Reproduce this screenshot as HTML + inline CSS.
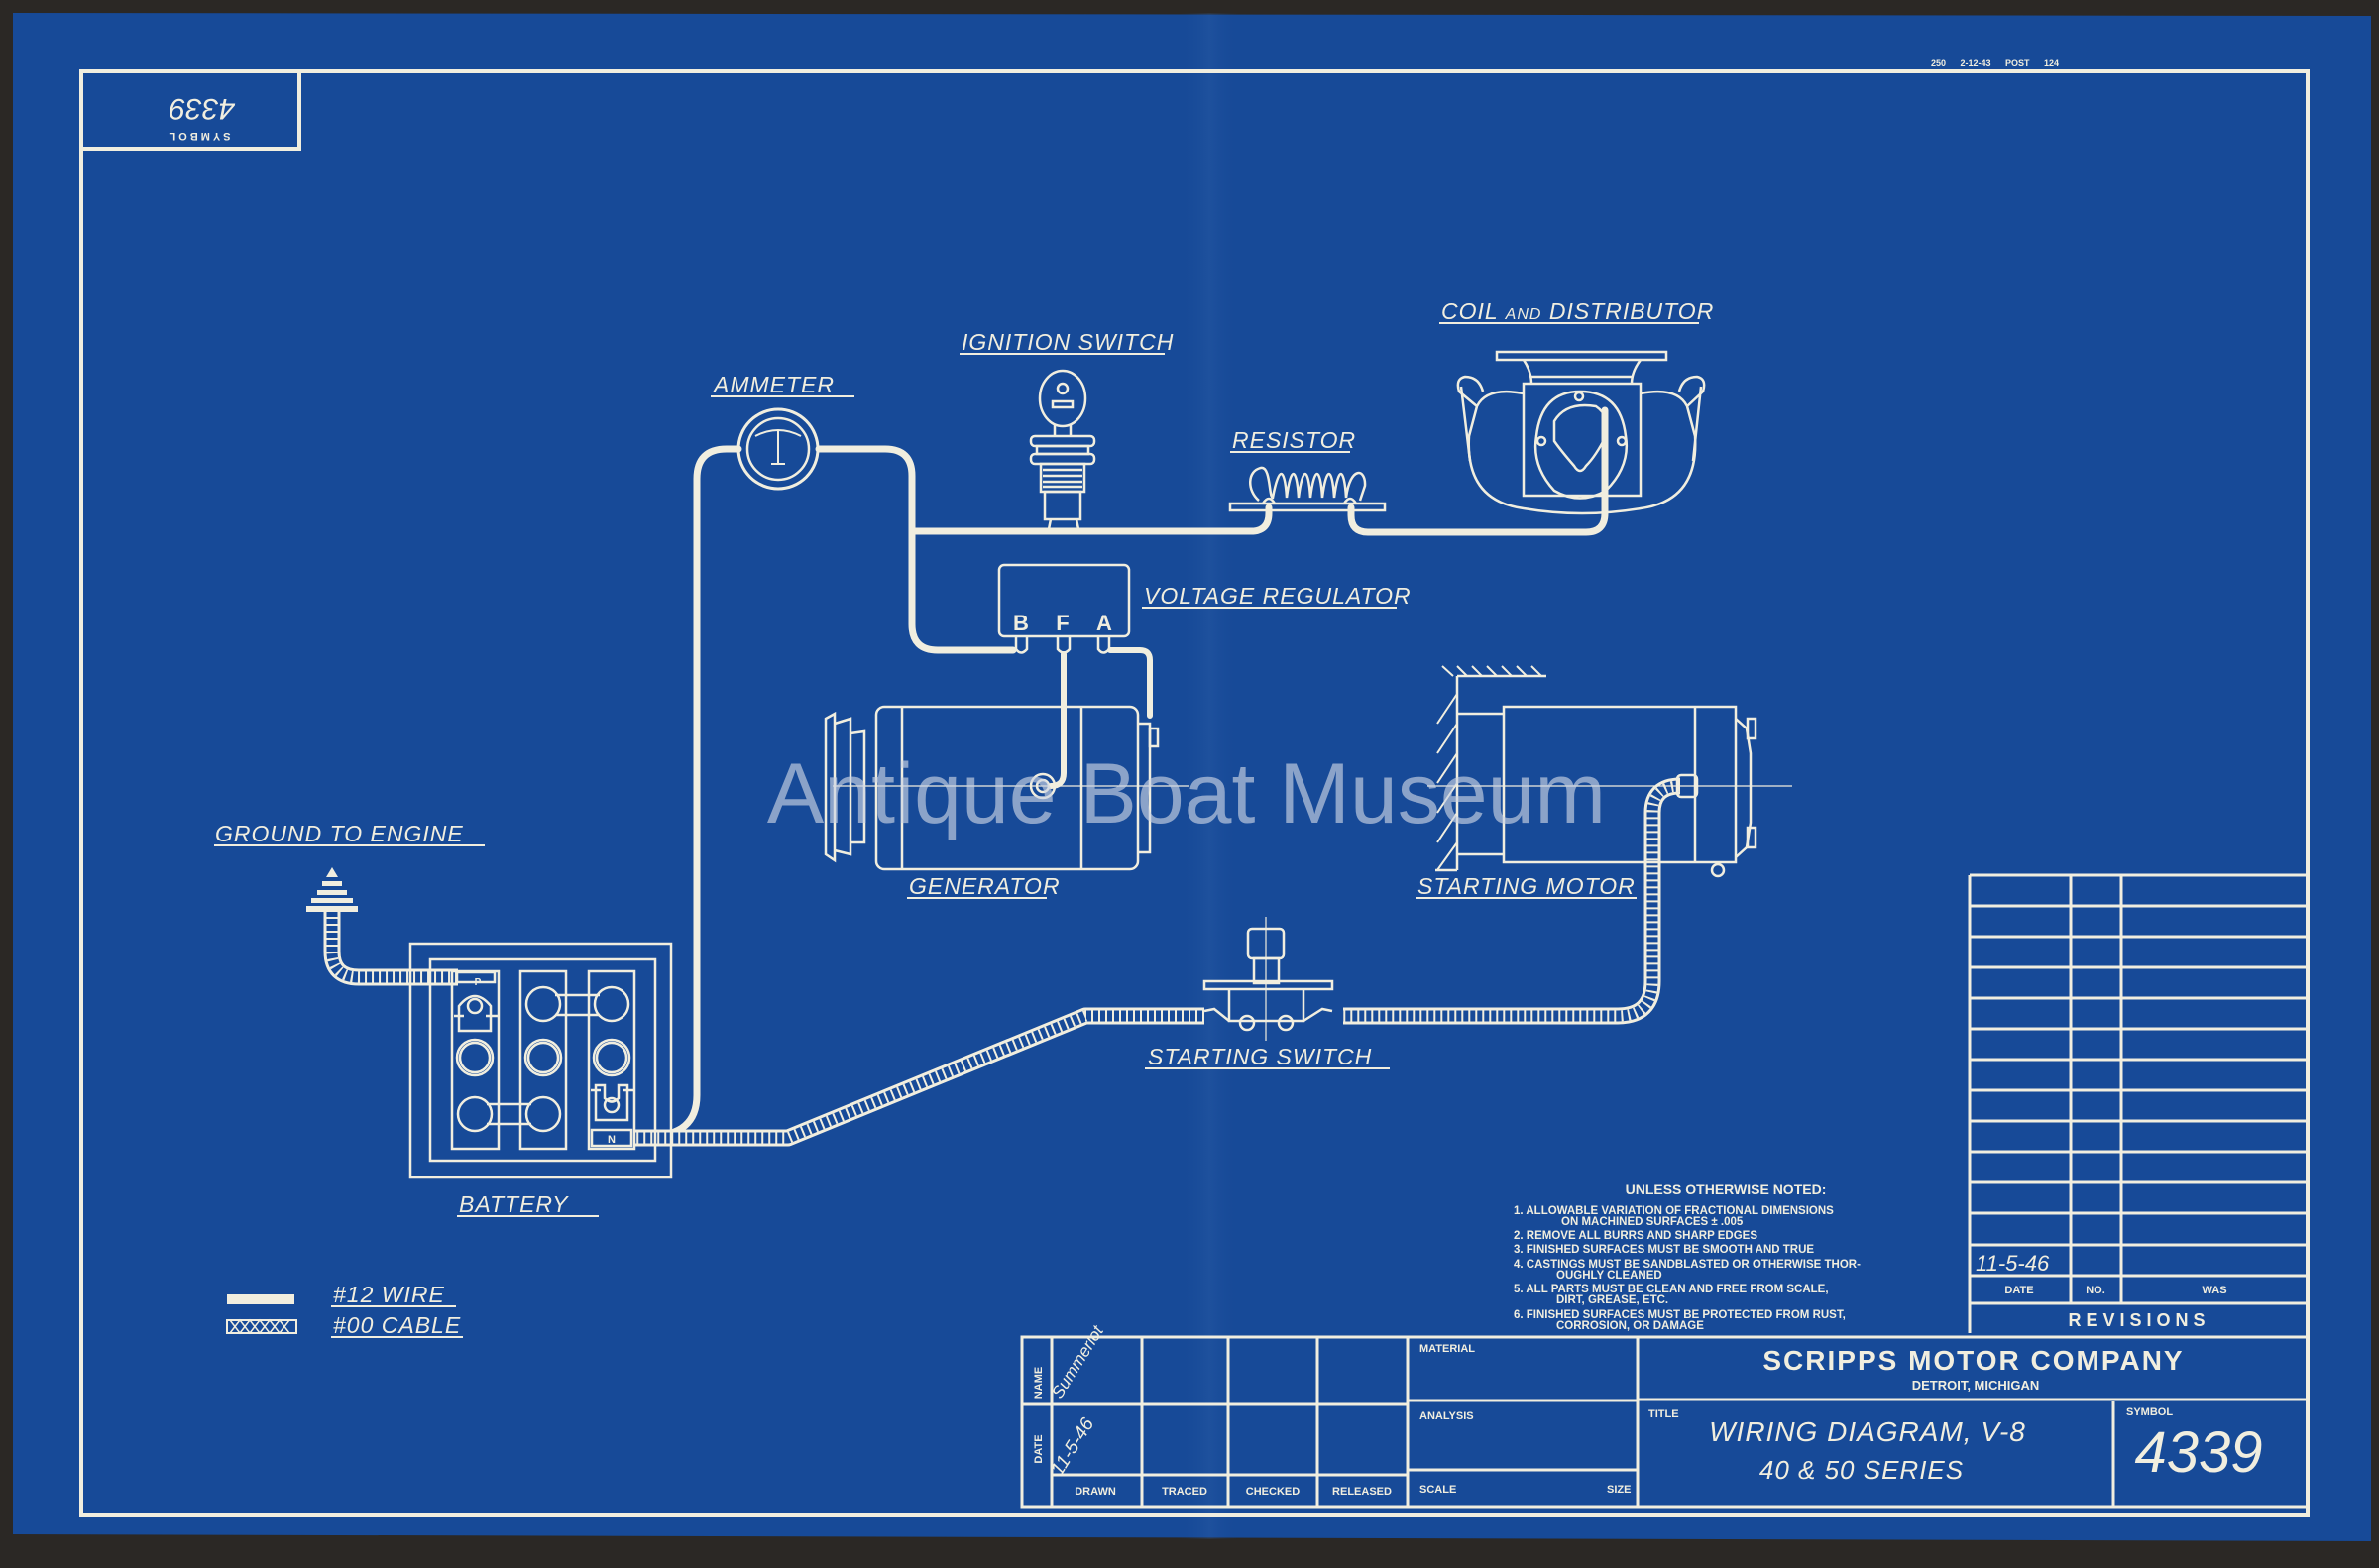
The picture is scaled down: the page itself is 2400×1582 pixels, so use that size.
<!DOCTYPE html>
<html><head><meta charset="utf-8"><style>
html,body{margin:0;padding:0;background:#2b2825;}
svg{display:block}
.l{font-family:"Liberation Sans",sans-serif;font-style:italic;fill:#f1eedf;font-size:23px;letter-spacing:1px}
.b{font-family:"Liberation Sans",sans-serif;font-weight:bold;fill:#f1eedf}
</style></head><body>
<svg width="2400" height="1582" viewBox="0 0 2400 1582" xmlns="http://www.w3.org/2000/svg">
<defs>
<linearGradient id="fold" x1="0" x2="1" y1="0" y2="0">
<stop offset="0" stop-color="#174a98" stop-opacity="0"/>
<stop offset="0.5" stop-color="#3a6db2" stop-opacity="0.2"/>
<stop offset="1" stop-color="#174a98" stop-opacity="0"/>
</linearGradient>
</defs>
<rect width="2400" height="1582" fill="#2b2825"/>
<path d="M13 13 L2392 16 L2392 1555 L1400 1552 L13 1548 Z" fill="#174a98"/>
<rect x="1190" y="13" width="60" height="1540" fill="url(#fold)"/>
<g stroke="#f1eedf" fill="none">
<rect x="82" y="72" width="2246" height="1457" stroke-width="4"/>
<path d="M82 150 L302 150 L302 72" stroke-width="4"/>
<g stroke-width="3">
<path d="M1987 883 L2328 883 M1987 883 L1987 1345 M2089 883 L2089 1315 M2140 883 L2140 1315"/>
<path d="M1987 914 H2328 M1987 945 H2328 M1987 976 H2328 M1987 1007 H2328 M1987 1038 H2328 M1987 1069 H2328 M1987 1100 H2328 M1987 1131 H2328 M1987 1162 H2328 M1987 1193 H2328 M1987 1224 H2328 M1987 1256 H2328 M1987 1287 H2328 M1987 1315 H2328"/>
</g>
<g stroke-width="3">
<rect x="1031" y="1349" width="1297" height="171"/>
<path d="M1061 1349 V1520 M1152 1349 V1520 M1239 1349 V1520 M1329 1349 V1520 M1420 1349 V1520 M1652 1349 V1520 M2132 1414 V1520"/>
<path d="M1031 1417 H1420 M1061 1488 H1420 M1420 1413 H1652 M1420 1483 H1652 M1652 1412 H2328"/>
</g>
<g stroke-width="7" stroke-linecap="round" stroke-linejoin="round">
<path d="M655 1146 Q703 1146 703 1105 L703 483 Q703 453 733 453 L745 453"/>
<path d="M826 453 L893 453 Q920 453 920 480 L920 630 Q920 656 946 656 L1022 656"/>
<path d="M920 536 L1262 536 Q1280 536 1280 518 L1280 512"/>
<path d="M1363 512 L1363 520 Q1363 537 1380 537 L1600 537 Q1619 537 1619 518 L1619 414"/>
<path d="M1073 660 L1073 780 Q1073 793 1060 793" stroke-width="6"/>
<path d="M1120 656 L1150 656 Q1160 656 1160 666 L1160 722" stroke-width="6"/>
</g>
<g stroke-linejoin="round" stroke-linecap="butt">
<path d="M1695 793 Q1667 793 1667 820 L1667 990 Q1667 1025 1632 1025 L1355 1025 M1215 1025 L1095 1025 L795 1148 L640 1148" stroke-width="17"/>
<path d="M1695 793 Q1667 793 1667 820 L1667 990 Q1667 1025 1632 1025 L1355 1025 M1215 1025 L1095 1025 L795 1148 L640 1148" stroke="#174a98" stroke-width="11"/>
<path d="M1695 793 Q1667 793 1667 820 L1667 990 Q1667 1025 1632 1025 L1355 1025 M1215 1025 L1095 1025 L795 1148 L640 1148" stroke-width="11" stroke-dasharray="2 5"/>
<path d="M335 918 L335 960 Q335 986 362 986 L462 986" stroke-width="17"/>
<path d="M335 918 L335 960 Q335 986 362 986 L462 986" stroke="#174a98" stroke-width="11"/>
<path d="M335 918 L335 960 Q335 986 362 986 L462 986" stroke-width="11" stroke-dasharray="2 5"/>
</g>
<circle cx="785" cy="453" r="40" stroke-width="3"/>
<circle cx="785" cy="453" r="31" stroke-width="2.5"/>
<path d="M762 440 Q785 428 808 440 M785 434 L785 468 M778 468 H792" stroke-width="2"/>
<g stroke-width="2.5">
<ellipse cx="1072" cy="402" rx="23" ry="28"/>
<circle cx="1072" cy="392" r="5"/>
<rect x="1062" y="405" width="20" height="6"/>
<path d="M1064 428 L1064 440 M1080 428 L1080 440"/>
<rect x="1040" y="440" width="64" height="10" rx="4"/>
<rect x="1046" y="450" width="52" height="8"/>
<rect x="1040" y="458" width="64" height="10" rx="4"/>
<rect x="1050" y="468" width="44" height="28"/>
<path d="M1052 474 H1092 M1052 480 H1092 M1052 486 H1092 M1052 491 H1092"/>
<rect x="1054" y="496" width="36" height="28"/>
<path d="M1060 524 L1058 534 L1050 538 M1086 524 L1088 534 L1094 538"/>
</g>
<g stroke-width="2.5">
<rect x="1241" y="508" width="156" height="7"/>
<path d="M1270 505 C1258 495 1258 475 1272 472 C1282 470 1280 502 1284 502 C1290 470 1296 470 1298 502 C1302 470 1308 470 1310 502 C1314 470 1320 470 1322 502 C1326 470 1332 470 1334 502 C1338 470 1344 470 1346 502 C1350 470 1356 470 1358 502 C1362 470 1378 472 1377 490 L1372 505"/>
<path d="M1274 508 Q1280 498 1286 508 M1356 508 Q1362 498 1368 508"/>
</g>
<g stroke-width="2.5">
<rect x="1510" y="355" width="171" height="8"/>
<path d="M1537 363 Q1545 375 1545 387 M1655 363 Q1646 375 1646 387 M1545 380 H1646"/>
<rect x="1537" y="387" width="118" height="113"/>
<path d="M1537 397 Q1500 390 1490 410 L1482 440 Q1478 505 1537 513 M1655 397 Q1692 390 1702 410 L1710 440 Q1714 505 1655 513 M1537 513 Q1596 523 1655 513"/>
<path d="M1490 410 L1472 395 Q1468 382 1478 380 Q1492 380 1496 395 M1474 390 L1483 465 M1702 410 L1718 395 Q1722 382 1712 380 Q1698 380 1694 395 M1716 390 L1708 465"/>
<path d="M1594 395 Q1635 395 1640 440 Q1645 470 1620 495 Q1594 510 1568 495 Q1545 470 1550 440 Q1555 395 1594 395 Z"/>
<path d="M1568 425 Q1580 405 1610 410 Q1625 420 1620 440 Q1610 460 1600 470 Q1594 480 1588 470 Q1575 455 1568 445 Z"/>
<circle cx="1593" cy="400" r="4"/><circle cx="1555" cy="445" r="4"/><circle cx="1636" cy="445" r="4"/>
</g>
<g stroke-width="2.5">
<rect x="1008" y="570" width="131" height="72" rx="5"/>
<path d="M1025 642 L1025 655 Q1030 662 1036 655 L1036 642 M1067 642 L1067 655 Q1073 662 1079 655 L1079 642 M1108 642 L1108 655 Q1113 662 1119 655 L1119 642"/>
</g>
<g stroke-width="2.5">
<path d="M833 725 L842 720 L842 868 L833 862 Z M842 730 L858 725 L858 862 L842 858 M858 740 L872 738 L872 850 L858 850"/>
<rect x="884" y="713" width="264" height="164" rx="8"/>
<path d="M910 713 V877 M1091 713 V877 M1148 730 L1160 730 L1160 860 L1148 860"/>
<rect x="1160" y="735" width="8" height="18"/>
<circle cx="1052" cy="793" r="12"/><circle cx="1052" cy="793" r="6"/>
<path d="M840 793 H1200" stroke-width="1.2"/>
</g>
<g stroke-width="2.5">
<path d="M1470 682 V878 M1470 682 H1560 M1448 878 H1470"/>
<path d="M1455 672 L1466 682 M1470 672 L1480 682 M1485 672 L1495 682 M1500 672 L1510 682 M1515 672 L1525 682 M1530 672 L1540 682 M1545 672 L1555 682" stroke-width="2"/>
<path d="M1470 700 L1450 730 M1470 730 L1450 760 M1470 760 L1450 790 M1470 790 L1450 820 M1470 820 L1450 850 M1470 850 L1450 878" stroke-width="2"/>
<path d="M1470 720 H1517 M1470 862 H1517"/>
<rect x="1517" y="713" width="234" height="157"/>
<path d="M1710 713 V870 M1751 725 L1762 735 L1766 760 L1766 830 L1762 855 L1751 865"/>
<rect x="1763" y="725" width="8" height="20"/><rect x="1763" y="835" width="8" height="20"/>
<circle cx="1733" cy="878" r="6"/>
<rect x="1692" y="782" width="20" height="22" rx="4"/>
<path d="M1440 793 H1808" stroke-width="1.2"/>
</g>
<g stroke-width="2.5">
<rect x="1259" y="937" width="36" height="30" rx="4"/>
<rect x="1265" y="967" width="25" height="25"/>
<rect x="1215" y="990" width="129" height="8"/>
<path d="M1240 998 V1030 H1315 V998"/>
<path d="M1215 1020 L1225 1018 L1240 1030 M1344 1020 L1334 1018 L1315 1030"/>
<circle cx="1258" cy="1032" r="7"/><circle cx="1297" cy="1032" r="7"/>
<path d="M1277 925 V1050" stroke-width="1.2"/>
</g>
<g stroke-width="2.5">
<rect x="414" y="952" width="263" height="236"/>
<rect x="434" y="968" width="227" height="203"/>
<rect x="456" y="980" width="47" height="179"/>
<rect x="525" y="980" width="46" height="179"/>
<rect x="594" y="980" width="46" height="179"/>
<rect x="461" y="981" width="38" height="10"/>
<circle cx="548" cy="1013" r="17"/><circle cx="617" cy="1013" r="17"/><path d="M560 1004 H605 M560 1024 H605"/>
<circle cx="479" cy="1067" r="18"/><circle cx="479" cy="1067" r="15"/>
<circle cx="548" cy="1067" r="18"/><circle cx="548" cy="1067" r="15"/>
<circle cx="617" cy="1067" r="18"/><circle cx="617" cy="1067" r="15"/>
<circle cx="479" cy="1124" r="17"/><circle cx="548" cy="1124" r="17"/><path d="M491 1114 H536 M491 1134 H536"/>
<path d="M463 1040 L463 1015 Q479 995 495 1015 L495 1040 Z M458 1025 H468 M490 1025 H502"/>
<circle cx="479" cy="1015" r="7"/>
<path d="M601 1130 L601 1095 H610 V1108 Q617 1115 624 1108 V1095 H633 V1130 Z M596 1100 H606 M628 1100 H640"/>
<circle cx="617" cy="1115" r="7"/>
<rect x="597" y="1140" width="40" height="16"/>
</g>
<g fill="#f1eedf" stroke="none">
<path d="M335 875 L341 885 L329 885 Z"/>
<rect x="325" y="889" width="20" height="5"/>
<rect x="320" y="898" width="30" height="5"/>
<rect x="314" y="906" width="42" height="5"/>
<rect x="309" y="914" width="52" height="6"/>
</g>
<rect x="229" y="1306" width="68" height="10" fill="#f1eedf" stroke="none"/>
<rect x="229" y="1332" width="70" height="13" stroke-width="2"/>
<path d="M232 1345 L242 1332 L252 1345 L262 1332 L272 1345 L282 1332 L292 1345 M232 1332 L242 1345 L252 1332 L262 1345 L272 1332 L282 1345 L292 1332" stroke-width="1.5"/>
<g stroke-width="2">
<path d="M717 400 H862 M968 357 H1175 M1241 456 H1362 M1452 326 H1714 M1152 613 H1409 M915 906 H1056 M1428 906 H1651 M1155 1078 H1402 M216 853 H489 M461 1227 H604 M334 1318 H460 M334 1349 H467"/>
</g>
</g>
<text class="l" x="720" y="396">AMMETER</text>
<text class="l" x="970" y="353">IGNITION  SWITCH</text>
<text class="l" x="1243" y="452">RESISTOR</text>
<text class="l" x="1454" y="322">COIL <tspan font-size="16">AND</tspan> DISTRIBUTOR</text>
<text class="l" x="1154" y="609">VOLTAGE  REGULATOR</text>
<text class="l" x="917" y="902">GENERATOR</text>
<text class="l" x="1430" y="902">STARTING  MOTOR</text>
<text class="l" x="1158" y="1074">STARTING  SWITCH</text>
<text class="l" x="217" y="849">GROUND  TO ENGINE</text>
<text class="l" x="463" y="1223">BATTERY</text>
<text class="l" x="336" y="1314" font-size="20">#12  WIRE</text>
<text class="l" x="336" y="1345" font-size="20">#00  CABLE</text>
<g class="b" font-size="22" text-anchor="middle">
<text x="1030" y="636">B</text><text x="1072" y="636">F</text><text x="1114" y="636">A</text>
</g>
<text class="b" x="482" y="994" font-size="10" text-anchor="middle">P</text>
<text class="b" x="617" y="1153" font-size="11" text-anchor="middle">N</text>
<g transform="rotate(180 200 111)">
<text class="b" x="200" y="88" font-size="11" letter-spacing="3" text-anchor="middle">SYMBOL</text>
<text x="196" y="122" font-family="Liberation Sans,sans-serif" font-style="italic" font-size="30" fill="#f1eedf" text-anchor="middle">4339</text>
</g>
<text class="b" x="1948" y="67" font-size="9" word-spacing="12">250 2-12-43 POST 124</text>
<g class="b" font-size="11.5">
<text x="1741" y="1205" font-size="14" text-anchor="middle">UNLESS OTHERWISE NOTED:</text>
<text x="1527" y="1225">1. ALLOWABLE VARIATION OF FRACTIONAL DIMENSIONS</text>
<text x="1575" y="1236">ON MACHINED SURFACES ± .005</text>
<text x="1527" y="1250">2. REMOVE ALL BURRS AND SHARP EDGES</text>
<text x="1527" y="1264">3. FINISHED SURFACES MUST BE SMOOTH AND TRUE</text>
<text x="1527" y="1279">4. CASTINGS MUST BE SANDBLASTED OR OTHERWISE THOR-</text>
<text x="1570" y="1290">OUGHLY CLEANED</text>
<text x="1527" y="1304">5. ALL PARTS MUST BE CLEAN AND FREE FROM SCALE,</text>
<text x="1570" y="1315">DIRT, GREASE, ETC.</text>
<text x="1527" y="1330">6. FINISHED SURFACES MUST BE PROTECTED FROM RUST,</text>
<text x="1570" y="1341">CORROSION, OR DAMAGE</text>
</g>
<text x="1993" y="1282" font-family="Liberation Sans,sans-serif" font-style="italic" font-size="22" fill="#f1eedf">11-5-46</text>
<g class="b" font-size="11" text-anchor="middle">
<text x="2037" y="1305">DATE</text><text x="2114" y="1305">NO.</text><text x="2234" y="1305">WAS</text>
</g>
<text class="b" x="2158" y="1338" font-size="18" letter-spacing="5" text-anchor="middle">REVISIONS</text>
<g class="b" font-size="11">
<text x="1432" y="1364">MATERIAL</text>
<text x="1432" y="1432">ANALYSIS</text>
<text x="1432" y="1506">SCALE</text>
<text x="1621" y="1506">SIZE</text>
<text x="1663" y="1430">TITLE</text>
<text x="2145" y="1428">SYMBOL</text>
<text x="1105" y="1508" text-anchor="middle">DRAWN</text>
<text x="1195" y="1508" text-anchor="middle">TRACED</text>
<text x="1284" y="1508" text-anchor="middle">CHECKED</text>
<text x="1374" y="1508" text-anchor="middle">RELEASED</text>
<text transform="translate(1051 1395) rotate(-90)" text-anchor="middle">NAME</text>
<text transform="translate(1051 1462) rotate(-90)" text-anchor="middle">DATE</text>
</g>
<text class="b" x="1991" y="1382" font-size="28" letter-spacing="2" text-anchor="middle">SCRIPPS MOTOR COMPANY</text>
<text class="b" x="1993" y="1402" font-size="13" text-anchor="middle">DETROIT, MICHIGAN</text>
<g font-family="Liberation Sans,sans-serif" font-style="italic" fill="#f1eedf">
<text x="1884" y="1454" font-size="28" text-anchor="middle" letter-spacing="1">WIRING DIAGRAM,  V-8</text>
<text x="1878" y="1492" font-size="26" text-anchor="middle" letter-spacing="1">40 &amp; 50 SERIES</text>
<text x="2218" y="1485" font-size="58" text-anchor="middle">4339</text>
<text transform="translate(1070 1412) rotate(-58)" font-size="17">Summerlot</text>
<text transform="translate(1070 1490) rotate(-58)" font-size="19">11-5-46</text>
</g>
<text x="1197" y="830" font-family="Liberation Sans,sans-serif" font-size="86" fill="#c9d3e4" fill-opacity="0.65" text-anchor="middle">Antique Boat Museum</text>
</svg>
</body></html>
